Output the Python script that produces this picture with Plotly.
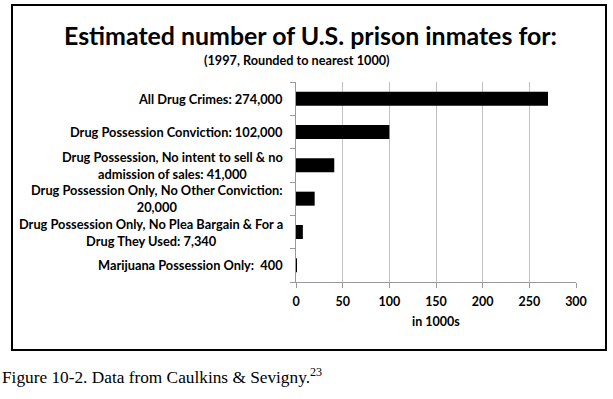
import plotly.graph_objects as go

categories = [
    "All Drug Crimes: 274,000",
    "Drug Possession Conviction: 102,000",
    "Drug Possession, No intent to sell & no<br>admission of sales: 41,000",
    "Drug Possession Only, No Other Conviction:<br>20,000",
    "Drug Possession Only, No Plea Bargain & For a<br>Drug They Used: 7,340",
    "Marijuana Possession Only:  400",
]
values = [270, 100, 41, 20, 7.34, 0.4]
x_ticks = [0, 50, 100, 150, 200, 250, 300]

W, H = 613, 399
L, R, T, B = 296, 576, 82, 282  # plot area in pixels

def px_x(p):
    return (p - L) / (R - L)

def px_y(p):
    return (B - p) / (B - T)

font_main = "Lato"

fig = go.Figure(go.Bar(
    x=values, y=categories, orientation="h",
    marker=dict(color="black", line=dict(width=0)),
    width=0.42,
))

fig.update_layout(
    width=W, height=H,
    margin=dict(l=L, r=W - R, t=T, b=H - B, pad=0),
    paper_bgcolor="white", plot_bgcolor="white",
    showlegend=False,
    font=dict(family=font_main, color="black", size=12),
    xaxis=dict(
        range=[0, 300], tickvals=x_ticks, ticktext=[f"<b>{v}</b>" for v in x_ticks],
        showgrid=True, gridcolor="#c0c0c0", gridwidth=1,
        showline=True, linecolor="#9a9a9a", linewidth=1,
        ticks="outside", ticklen=5, tickcolor="#9a9a9a", ticklabelstandoff=3,
        tickfont=dict(size=12.5, family=font_main),
        title=dict(text="<b>in 1000s</b>", font=dict(size=12.5, family=font_main), standoff=9),
        zeroline=False, fixedrange=True,
    ),
    yaxis=dict(
        categoryorder="array", categoryarray=categories[::-1],
        showticklabels=False,
        showline=True, linecolor="#9a9a9a", linewidth=1,
        ticks="outside", ticklen=5, tickcolor="#9a9a9a", tickson="boundaries",
        showgrid=False, fixedrange=True,
    ),
)

for c in categories:
    fig.add_annotation(
        x=0, xref="paper", y=c, yref="y", text=f"<b>{c}</b>",
        xanchor="right", xshift=-11, align="center", showarrow=False,
        font=dict(size=12.8, family=font_main, color="black"),
    )

fig.add_annotation(
    x=px_x(310), y=px_y(35), xref="paper", yref="paper",
    text="<b>Estimated number of U.S. prison inmates for:</b>",
    showarrow=False, xanchor="center", yanchor="middle",
    font=dict(size=24.9, family=font_main, color="black"),
)
fig.add_annotation(
    x=px_x(297), y=px_y(60), xref="paper", yref="paper",
    text="<b>(1997, Rounded to nearest 1000)</b>",
    showarrow=False, xanchor="center", yanchor="middle",
    font=dict(size=12.7, family=font_main, color="black"),
)
fig.add_annotation(
    x=px_x(0), y=px_y(376), xref="paper", yref="paper",
    text="Figure 10-2. Data from Caulkins &amp; Sevigny.<sup>23</sup>",
    showarrow=False, xanchor="left", yanchor="middle",
    font=dict(size=17.3, family="Liberation Serif", color="black"),
)

fig.add_shape(
    type="rect", xref="paper", yref="paper",
    x0=px_x(12), x1=px_x(606), y0=px_y(5), y1=px_y(350),
    line=dict(color="black", width=2), fillcolor="rgba(0,0,0,0)", layer="above",
)

fig.write_html(
    "out.html",
    config={"displayModeBar": False},
    post_script="document.body.style.margin='0';document.body.style.padding='0';",
)
